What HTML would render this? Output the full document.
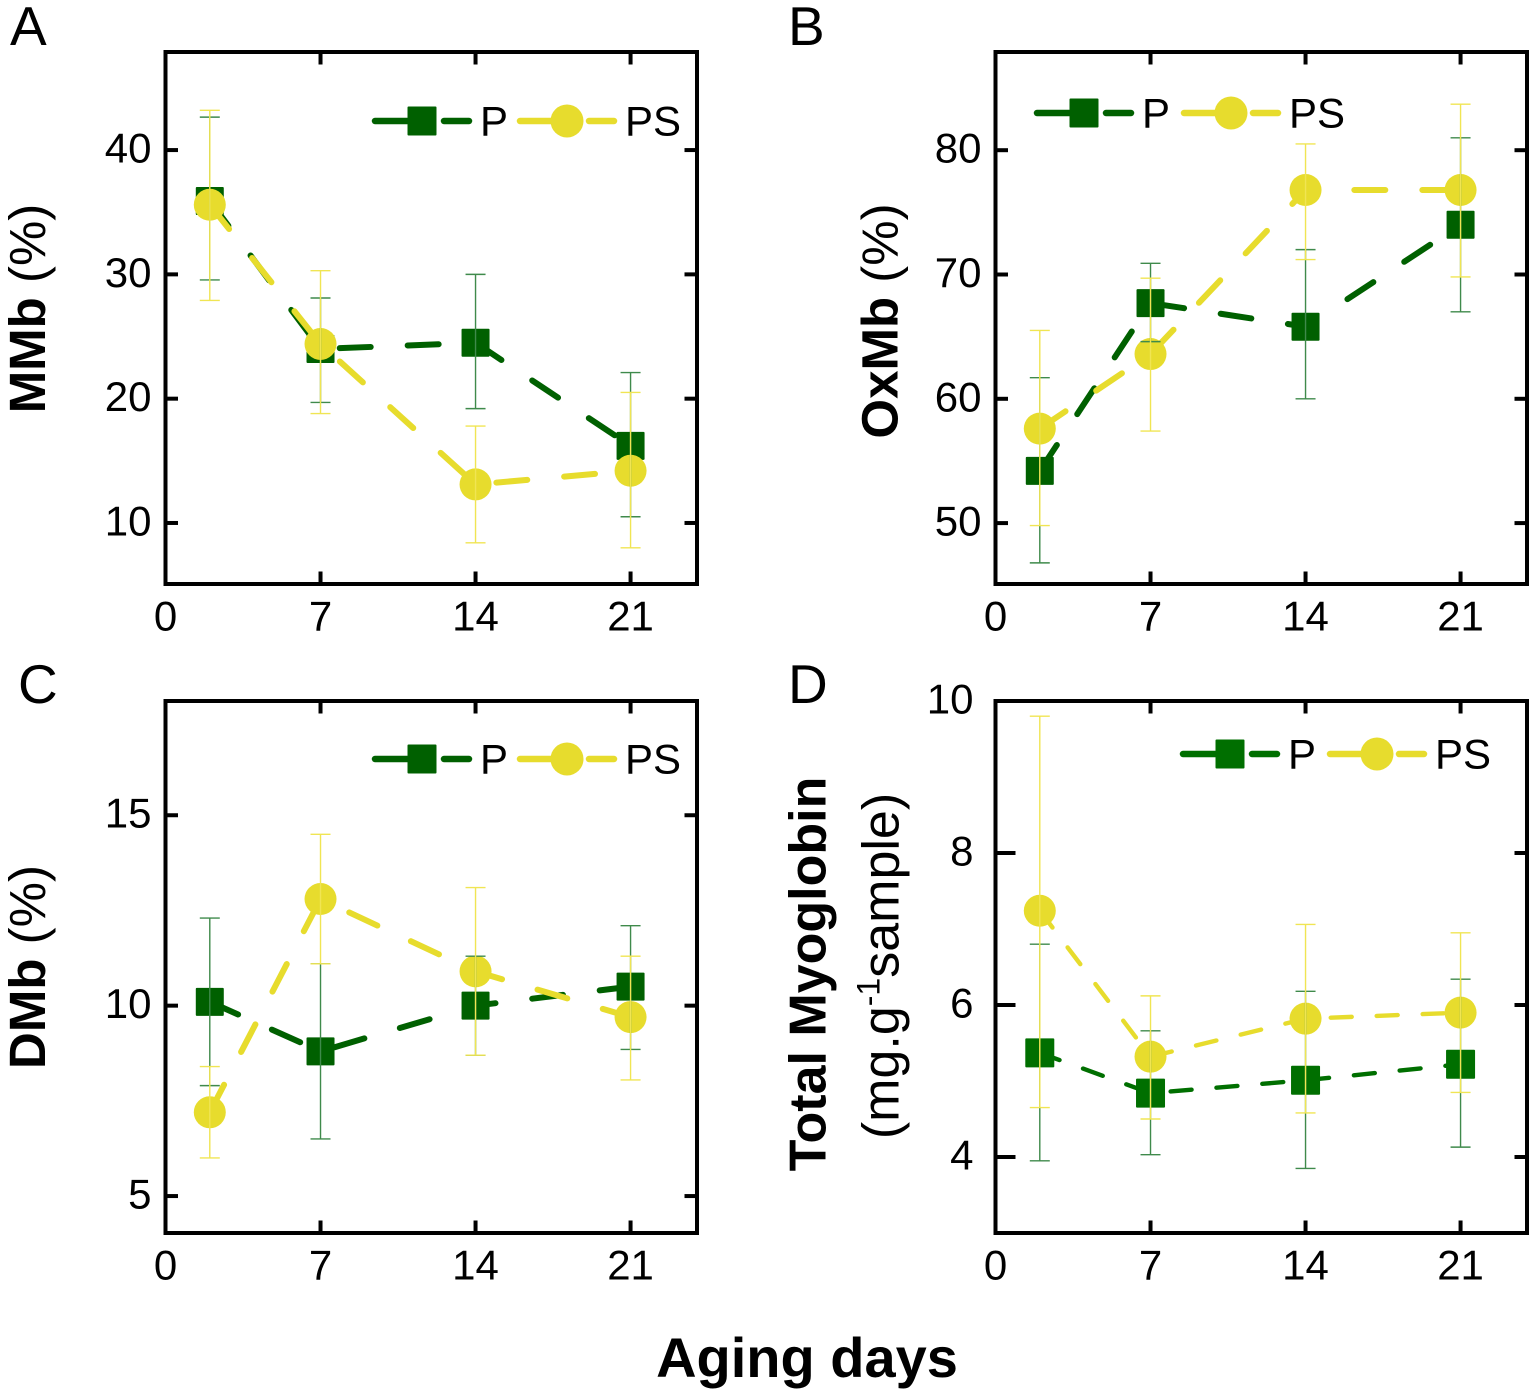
<!DOCTYPE html>
<html lang="en">
<head>
<meta charset="utf-8">
<title>Myoglobin forms during aging</title>
<style>
html,body{margin:0;padding:0;background:#fff;}
svg{display:block;}
text{font-family:"Liberation Sans",Arial,sans-serif;fill:#000;}
</style>
</head>
<body>
<svg id="chart" width="1535" height="1396" viewBox="0 0 1535 1396" xmlns="http://www.w3.org/2000/svg">
  <rect x="0" y="0" width="1535" height="1396" fill="#ffffff"/>

  <text x="10" y="45" font-size="55">A</text>
  <text x="788" y="45" font-size="55">B</text>
  <text x="18" y="703" font-size="55">C</text>
  <text x="788" y="703" font-size="55">D</text>

  <text transform="translate(45,308.5) rotate(-90)" text-anchor="middle" font-size="51"><tspan font-weight="bold">MMb</tspan> (%)</text>
  <text transform="translate(897.5,321) rotate(-90)" text-anchor="middle" font-size="51"><tspan font-weight="bold">OxMb</tspan> (%)</text>
  <text transform="translate(45,967) rotate(-90)" text-anchor="middle" font-size="51"><tspan font-weight="bold">DMb</tspan> (%)</text>
  <text transform="translate(825.5,974) rotate(-90)" text-anchor="middle" font-size="52" font-weight="bold">Total Myoglobin</text>
  <text transform="translate(898.5,966) rotate(-90)" text-anchor="middle" font-size="52">(mg.g<tspan dy="-19" font-size="32">-1</tspan><tspan dy="19">sample)</tspan></text>
  <text x="807" y="1377" text-anchor="middle" font-size="56" font-weight="bold">Aging days</text>

  <g id="panels"></g>
</svg>

<script>
// Shared categories and tick labels
const days = [2, 7, 14, 21];
const xTickValues = [0, 7, 14, 21];
const seriesNames = ['P', 'PS'];

// Panel A: MMb (%)
const mmbTicks = [10, 20, 30, 40];
const mmbP = [35.9, 24.0, 24.5, 16.2];
const mmbPHigh = [42.65, 28.1, 30.0, 22.1];
const mmbPLow = [29.55, 19.7, 19.2, 10.5];
const mmbPS = [35.6, 24.4, 13.1, 14.2];
const mmbPSHigh = [43.2, 30.3, 17.8, 20.5];
const mmbPSLow = [27.9, 18.8, 8.4, 8.0];

// Panel B: OxMb (%)
const oxmbTicks = [50, 60, 70, 80];
const oxmbP = [54.2, 67.7, 65.8, 74.0];
const oxmbPHigh = [61.7, 70.9, 72.0, 81.0];
const oxmbPLow = [46.8, 64.6, 60.0, 67.0];
const oxmbPS = [57.6, 63.6, 76.8, 76.8];
const oxmbPSHigh = [65.5, 69.7, 80.5, 83.7];
const oxmbPSLow = [49.8, 57.4, 71.2, 69.8];

// Panel C: DMb (%)
const dmbTicks = [5, 10, 15];
const dmbP = [10.1, 8.8, 10.0, 10.5];
const dmbPHigh = [12.3, 11.1, 11.3, 12.1];
const dmbPLow = [7.9, 6.5, 8.7, 8.85];
const dmbPS = [7.2, 12.8, 10.9, 9.7];
const dmbPSHigh = [8.4, 14.5, 13.1, 11.3];
const dmbPSLow = [6.0, 11.1, 8.7, 8.05];

// Panel D: Total Myoglobin
const totalTicks = [4, 6, 8, 10];
const totalP = [5.37, 4.84, 5.01, 5.22];
const totalPHigh = [6.8, 5.66, 6.18, 6.34];
const totalPLow = [3.95, 4.03, 3.85, 4.13];
const totalPS = [7.24, 5.32, 5.82, 5.9];
const totalPSHigh = [9.8, 6.12, 7.06, 6.95];
const totalPSLow = [4.65, 4.5, 4.58, 4.85];

const SVG_NS = 'http://www.w3.org/2000/svg';
const root = document.getElementById('panels');

function svgEl(parent, tag, attrs, name) {
  const el = document.createElementNS(SVG_NS, tag);
  for (const k in attrs) { el.setAttribute(k, attrs[k]); }
  
  
  parent.appendChild(el);
  return el;
}

function drawMarker(g, kind, cx, cy, color, size, name) {
  if (kind === 'square') {
    svgEl(g, 'rect', {x: cx - size / 2, y: cy - size / 2, width: size, height: size, rx: 1, fill: color}, name);
  } else {
    svgEl(g, 'circle', {cx: cx, cy: cy, r: size, fill: color}, name);
  }
}

function drawPanel(cfg) {
  const g = svgEl(root, 'g', {}, 'panel-' + cfg.id);
  const left = cfg.left, right = cfg.left + 531.5, top = cfg.top, bottom = cfg.top + 532;
  const xScale = function (v) { return left + (v - 0) / 24 * (right - left); };
  const yScale = function (v) { return bottom - (v - cfg.yMin) / (cfg.yMax - cfg.yMin) * (bottom - top); };

  // Connected series (continuous dash along each polyline)
  cfg.series.forEach(function (s) {
    const pts = days.map(function (d, i) { return xScale(d) + ',' + yScale(s.values[i]); }).join(' ');
    svgEl(g, 'polyline', {
      points: pts, fill: 'none', stroke: s.color, 'stroke-width': cfg.lineWidth,
      'stroke-linecap': 'round', 'stroke-linejoin': 'round',
      'stroke-dasharray': cfg.dash
    }, 'line-' + cfg.id + '-' + s.name);
    days.forEach(function (d, i) {
      drawMarker(g, s.marker, xScale(d), yScale(s.values[i]), s.color, s.marker === 'square' ? cfg.square : cfg.radius,
        'marker-' + cfg.id + '-' + s.name + '-day-' + d);
    });
  });

  // Error bars
  cfg.series.forEach(function (s) {
    days.forEach(function (d, i) {
      const x = xScale(d), hi = yScale(s.high[i]), lo = yScale(s.low[i]);
      svgEl(g, 'path', {
        d: 'M' + x + ' ' + hi + 'V' + lo + 'M' + (x - 10) + ' ' + hi + 'H' + (x + 10) + 'M' + (x - 10) + ' ' + lo + 'H' + (x + 10),
        fill: 'none', stroke: s.errColor, 'stroke-width': 1.4
      }, 'error-bar-' + cfg.id + '-' + s.name + '-day-' + d);
    });
  });

  // Frame
  svgEl(g, 'rect', {x: left, y: top, width: right - left, height: bottom - top, fill: 'none', stroke: '#000', 'stroke-width': 4}, 'plot-frame-' + cfg.id);

  // X ticks (mirrored)
  xTickValues.forEach(function (v) {
    const x = xScale(v);
    if (v !== 0) {
      svgEl(g, 'line', {x1: x, x2: x, y1: bottom, y2: bottom - 12.5, stroke: '#000', 'stroke-width': 4}, 'x-tick-' + cfg.id + '-' + v);
      svgEl(g, 'line', {x1: x, x2: x, y1: top, y2: top + 12.5, stroke: '#000', 'stroke-width': 4}, 'x-tick-top-' + cfg.id + '-' + v);
    }
    const t = svgEl(g, 'text', {x: x, y: bottom + 46.5, 'text-anchor': 'middle', 'font-size': 42}, 'x-tick-label-' + cfg.id + '-' + v);
    t.textContent = String(v);
  });

  // Y ticks (mirrored)
  cfg.yTicks.forEach(function (v) {
    const y = yScale(v);
    svgEl(g, 'line', {x1: left, x2: left + cfg.leftTick, y1: y, y2: y, stroke: '#000', 'stroke-width': 4}, 'y-tick-' + cfg.id + '-' + v);
    svgEl(g, 'line', {x1: right, x2: right - 12.5, y1: y, y2: y, stroke: '#000', 'stroke-width': 4}, 'y-tick-right-' + cfg.id + '-' + v);
    const t = svgEl(g, 'text', {x: left - cfg.labelGap, y: y + 12.5, 'text-anchor': 'end', 'font-size': 42}, 'y-tick-label-' + cfg.id + '-' + v);
    t.textContent = String(v);
  });

  // Legend
  const lg = svgEl(g, 'g', {}, 'legend-' + cfg.id);
  const ly = cfg.legendY;
  cfg.series.forEach(function (s, i) {
    const cx = cfg.legendX[i];
    const entry = svgEl(lg, 'g', {}, 'legend-entry-' + s.name);
    svgEl(entry, 'line', {x1: cx - 47, x2: cx, y1: ly, y2: ly, stroke: s.color, 'stroke-width': 6.5, 'stroke-linecap': 'round'}, 'legend-line-left-' + s.name);
    svgEl(entry, 'line', {x1: cx + 22, x2: cx + 47, y1: ly, y2: ly, stroke: s.color, 'stroke-width': 6.5, 'stroke-linecap': 'round'}, 'legend-line-right-' + s.name);
    drawMarker(entry, s.marker, cx, ly, s.color, s.marker === 'square' ? 29 : 16.5, 'legend-marker-' + s.name);
    const t = svgEl(entry, 'text', {x: cx + 58, y: ly + 14.5, 'font-size': 42}, 'legend-label-' + s.name);
    t.textContent = s.name;
  });
}

const GREEN = '#006000';
const GREEN_D = '#006f00';
const YELLOW = '#e7dc2d';
const GREEN_ERR = '#3f8a4b';
const YELLOW_ERR = '#f0e553';

function makeSeries(green, p, pH, pL, ps, psH, psL) {
  return [
    {name: seriesNames[0], marker: 'square', color: green, errColor: GREEN_ERR, values: p, high: pH, low: pL},
    {name: seriesNames[1], marker: 'circle', color: YELLOW, errColor: YELLOW_ERR, values: ps, high: psH, low: psL}
  ];
}

drawPanel({id: 'a', left: 165.5, top: 52, yMin: 5.09, yMax: 47.89, yTicks: mmbTicks, leftTick: 12.5, labelGap: 14,
  series: makeSeries(GREEN, mmbP, mmbPHigh, mmbPLow, mmbPS, mmbPSHigh, mmbPSLow),
  lineWidth: 6, dash: '31 37', square: 28, radius: 16, legendX: [422, 567], legendY: 121});

drawPanel({id: 'b', left: 995.5, top: 52, yMin: 45.1, yMax: 87.9, yTicks: oxmbTicks, leftTick: 12.5, labelGap: 14,
  series: makeSeries(GREEN, oxmbP, oxmbPHigh, oxmbPLow, oxmbPS, oxmbPSHigh, oxmbPSLow),
  lineWidth: 6, dash: '31 37', square: 28, radius: 16, legendX: [1084, 1231], legendY: 113});

drawPanel({id: 'c', left: 165.5, top: 701, yMin: 4.03, yMax: 18, yTicks: dmbTicks, leftTick: 12.5, labelGap: 14,
  series: makeSeries(GREEN, dmbP, dmbPHigh, dmbPLow, dmbPS, dmbPSHigh, dmbPSLow),
  lineWidth: 6, dash: '31 37', square: 28, radius: 16, legendX: [422, 567], legendY: 759});

drawPanel({id: 'd', left: 995.5, top: 701, yMin: 3, yMax: 10, yTicks: totalTicks, leftTick: 20, labelGap: 22,
  series: makeSeries(GREEN_D, totalP, totalPHigh, totalPLow, totalPS, totalPSHigh, totalPSLow),
  lineWidth: 4.4, dash: '21 25', square: 29, radius: 16, legendX: [1230, 1377], legendY: 754});
</script>
</body>
</html>
